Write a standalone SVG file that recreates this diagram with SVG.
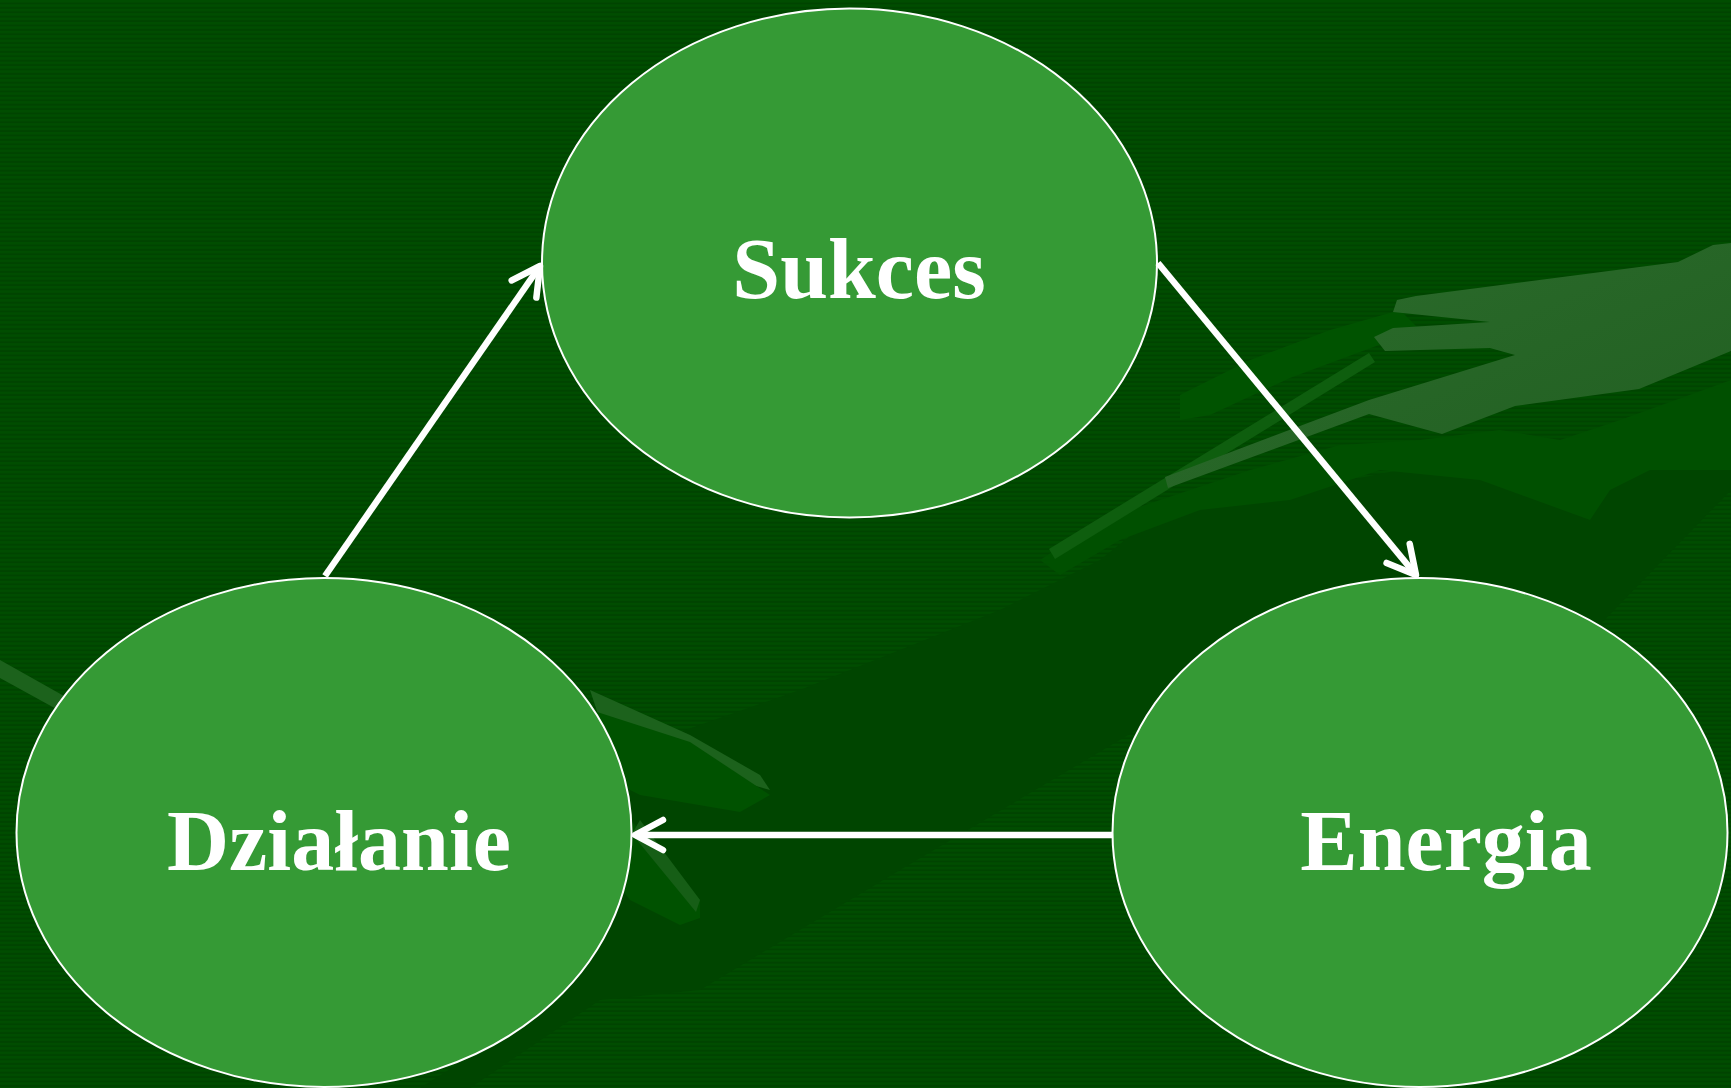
<svg xmlns="http://www.w3.org/2000/svg" width="1731" height="1088" viewBox="0 0 1731 1088">
  <defs>
    <pattern id="stripes" width="8" height="4.4" patternUnits="userSpaceOnUse">
      <rect width="8" height="4.4" fill="#004d00"/>
      <rect y="2.4" width="8" height="2" fill="#004400"/>
    </pattern>
    <marker id="head" viewBox="0 0 36 38" refX="32" refY="19" markerWidth="36" markerHeight="38" markerUnits="userSpaceOnUse" orient="auto">
      <path d="M4,4 L32,19 L4,34" fill="none" stroke="#ffffff" stroke-width="6.5" stroke-linecap="round" stroke-linejoin="round"/>
    </marker>
    <linearGradient id="handGrad" x1="0" y1="0" x2="1" y2="1">
      <stop offset="0" stop-color="#2c6c2c"/>
      <stop offset="1" stop-color="#215f21"/>
    </linearGradient>
  </defs>
  <style>
    .node { fill: #359a35; stroke: #ffffff; stroke-width: 2; }
    .label { font-family: "Liberation Serif", "DejaVu Serif", serif; font-weight: bold; font-size: 86px; fill: #ffffff; text-anchor: middle; }
    .edge { stroke: #ffffff; stroke-width: 6.5; fill: none; stroke-linecap: butt; marker-end: url(#head); }
  </style>

  <!-- background -->
  <rect width="1731" height="1088" fill="url(#stripes)"/>

  <!-- background decoration: shadow of hand -->
  <g id="background-decoration">
    <path d="M470,1088 L600,1000 L700,990 L900,870 L1140,728 L1400,650 L1583,642 L1731,490 L1731,440 L1560,440 L1400,470 L1250,500 L1150,520 L1100,560 L1000,610 L800,690 L600,760 L560,800 L600,900 L560,1000 L420,1088 Z" fill="#004500"/>
    <path d="M1040,560 L1100,520 L1160,500 L1250,470 L1340,445 L1420,440 L1500,430 L1560,440 L1620,420 L1731,380 L1731,470 L1650,470 L1610,490 L1590,520 L1480,480 L1380,470 L1290,500 L1200,510 L1120,540 L1060,575 Z" fill="#005000"/>
    <path d="M1180,395 L1250,360 L1330,330 L1400,310 L1420,330 L1360,352 L1290,378 L1210,415 L1180,420 Z" fill="#005300"/>
    <path d="M1049,549 L1369,353 L1375,362 L1055,559 Z" fill="#0e5e0e"/>
    <path d="M1416,296 L1678,262 L1713,245 L1731,243 L1731,351 L1639,389 L1515,406 L1442,434 L1380,417 L1369,414 L1168,488 L1165,477 L1369,400 L1515,355 L1490,348 L1385,351 L1374,337 L1393,328 L1490,322 L1393,312 L1397,300 Z" fill="url(#handGrad)"/>
    <!-- left side light stripe and finger -->
    <path d="M0,660 L80,705 L80,722 L0,678 Z" fill="#1c621c"/>
    <path d="M590,690 L690,735 L760,775 L770,790 L700,770 L600,720 Z" fill="#1c621c"/>
    <path d="M560,700 L690,742 L770,795 L740,812 L640,795 L570,760 Z" fill="#005200"/>
    <path d="M610,800 L660,850 L700,900 L700,918 L680,925 L630,900 L600,860 Z" fill="#005200"/>
    <path d="M640,820 L700,900 L696,912 L632,834 Z" fill="#165e16"/>
  </g>

  <!-- nodes -->
  <g id="node-sukces">
    <ellipse class="node" cx="849.5" cy="263" rx="307.5" ry="254.5"/>
    <text class="label" x="859" y="298">Sukces</text>
  </g>
  <g id="node-dzialanie">
    <ellipse class="node" cx="324" cy="832.5" rx="307.5" ry="254.5"/>
    <text class="label" x="339" y="870">Działanie</text>
  </g>
  <g id="node-energia">
    <ellipse class="node" cx="1420" cy="832.5" rx="307.5" ry="254.5"/>
    <text class="label" x="1446" y="870">Energia</text>
  </g>

  <!-- connectors -->
  <g id="connectors">
    <line class="edge" x1="325" y1="576" x2="540" y2="266"/>
    <line class="edge" x1="1158" y1="263" x2="1416" y2="575"/>
    <line class="edge" x1="1112" y1="835" x2="635" y2="835"/>
  </g>
</svg>
